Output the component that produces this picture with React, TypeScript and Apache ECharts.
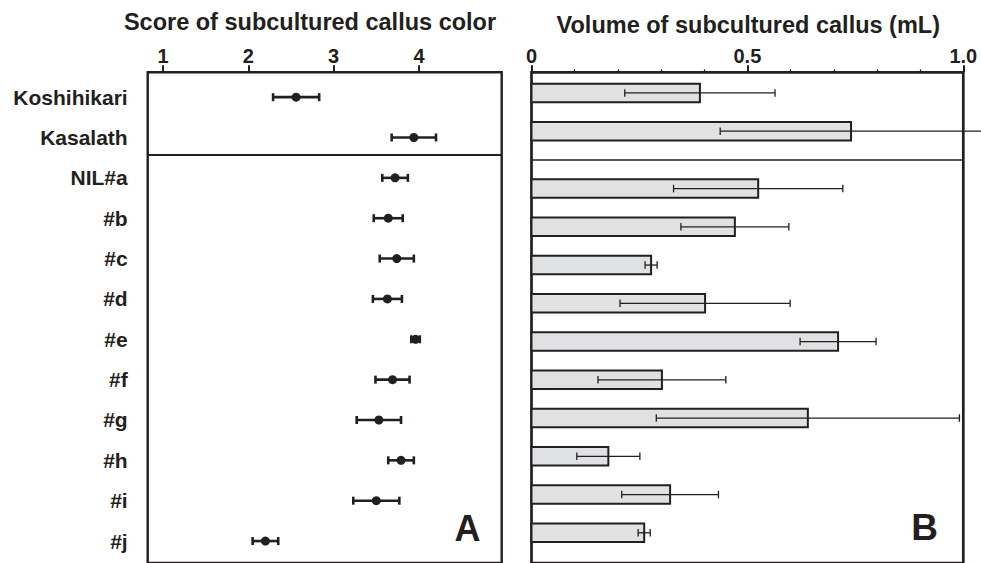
import React, { useEffect, useRef } from 'react';
import * as echarts from 'echarts';

// ---- data ----
const lines = ['Koshihikari', 'Kasalath', 'NIL#a', '#b', '#c', '#d', '#e', '#f', '#g', '#h', '#i', '#j'];
const scoreMean = [2.56, 3.94, 3.72, 3.64, 3.74, 3.63, 3.96, 3.69, 3.53, 3.79, 3.5, 2.2];
const scoreErr = [0.27, 0.26, 0.15, 0.17, 0.2, 0.17, 0.05, 0.2, 0.26, 0.15, 0.27, 0.15];
const volumeMean = [0.39, 0.74, 0.525, 0.471, 0.277, 0.402, 0.71, 0.302, 0.64, 0.178, 0.321, 0.261];
const volumeErr = [0.174, 0.303, 0.196, 0.125, 0.014, 0.197, 0.088, 0.148, 0.351, 0.073, 0.112, 0.014];
const scoreTicks = [1, 2, 3, 4];
const titleA = 'Score of subcultured callus color';
const titleB = 'Volume of subcultured callus (mL)';

const INK = '#231f20';
const FONT = '"Liberation Sans", Arial, Helvetica, sans-serif';

// Panel B leaves an extra half row between the parents and the NILs
const rowB = (i: number) => (i < 2 ? i : i + 0.5);

function errorBar(lineWidth: number, cap: number) {
  return (params: any, api: any) => {
    const lo = api.coord([api.value(0), api.value(2)]);
    const hi = api.coord([api.value(1), api.value(2)]);
    const style = { stroke: INK, lineWidth, fill: null };
    return {
      type: 'group',
      children: [
        { type: 'line', shape: { x1: lo[0], y1: lo[1], x2: hi[0], y2: hi[1] }, style },
        { type: 'line', shape: { x1: lo[0], y1: lo[1] - cap, x2: lo[0], y2: lo[1] + cap }, style },
        { type: 'line', shape: { x1: hi[0], y1: hi[1] - cap, x2: hi[0], y2: hi[1] + cap }, style },
      ],
    };
  };
}

export default function App() {
  const ref = useRef<HTMLDivElement>(null);
  useEffect(() => {
    const chart = echarts.init(ref.current!, null, { renderer: 'svg' });
    const idx = lines.map((_, i) => i);
    const tickLabel = { fontSize: 20, fontWeight: 'bold', color: INK, fontFamily: FONT, margin: 6 };
    const option: any = {
      animation: false,
      backgroundColor: '#ffffff',
      grid: [
        { left: 147.7, right: 479.3, top: 72.3, bottom: -3, show: true, borderColor: INK, borderWidth: 2.4 },
        { left: 531.5, right: 17.7, top: 72.3, bottom: -3, show: true, borderColor: INK, borderWidth: 2.7 },
      ],
      xAxis: [
        {
          type: 'value', gridIndex: 0, position: 'top', min: 0.82, max: 4.97,
          axisLine: { show: false, onZero: false },
          axisTick: { show: true, customValues: scoreTicks, length: 7, lineStyle: { color: INK, width: 2 } },
          axisLabel: { ...tickLabel, customValues: scoreTicks },
          splitLine: { show: false },
        },
        {
          type: 'value', gridIndex: 1, position: 'top', min: 0, max: 1, interval: 0.5,
          axisLine: { show: false, onZero: false },
          axisTick: { show: true, length: 7, lineStyle: { color: INK, width: 2 } },
          minorTick: { show: true, splitNumber: 5, length: 3, lineStyle: { color: INK, width: 1.2 } },
          axisLabel: { ...tickLabel, formatter: (v: number) => (v === 1 ? '1.0' : String(v)) },
          splitLine: { show: false },
          minorSplitLine: { show: false },
        },
      ],
      yAxis: [
        {
          type: 'value', gridIndex: 0, inverse: true, min: -0.616, max: 11.544,
          axisLine: { show: false, onZero: false }, axisTick: { show: false }, splitLine: { show: false },
          axisLabel: {
            customValues: idx,
            formatter: (v: number) => lines[Math.round(v)] ?? '',
            margin: 20, fontSize: 21, fontWeight: 'bold', color: INK, fontFamily: FONT,
            padding: [0, 0, 7, 0],
          },
        },
        { type: 'value', gridIndex: 1, inverse: true, min: -0.54, max: 12.29, show: false },
      ],
      series: [
        {
          type: 'custom', xAxisIndex: 0, yAxisIndex: 0, clip: false, z: 3,
          data: scoreMean.map((m, i) => [m - scoreErr[i], m + scoreErr[i], i]),
          encode: { x: [0, 1], y: 2 },
          renderItem: errorBar(2.6, 4),
        },
        {
          type: 'scatter', xAxisIndex: 0, yAxisIndex: 0, z: 4,
          data: scoreMean.map((m, i) => [m, i]),
          symbol: 'circle', symbolSize: 9, itemStyle: { color: INK, opacity: 1 },
          markLine: {
            silent: true, symbol: ['none', 'none'], label: { show: false },
            lineStyle: { color: INK, width: 1.8, type: 'solid' },
            data: [{ yAxis: 1.43 }],
          },
        },
        {
          type: 'custom', xAxisIndex: 1, yAxisIndex: 1, clip: false, z: 2,
          data: volumeMean.map((v, i) => [v, rowB(i)]),
          encode: { x: 0, y: 1 },
          renderItem: (params: any, api: any) => {
            const start = api.coord([0, api.value(1)]);
            const end = api.coord([api.value(0), api.value(1)]);
            const h = 18.5;
            return {
              type: 'rect',
              shape: { x: start[0], y: start[1] - h / 2, width: end[0] - start[0], height: h },
              style: { fill: '#e0e1e3', stroke: INK, lineWidth: 2 },
            };
          },
        },
        {
          type: 'custom', xAxisIndex: 1, yAxisIndex: 1, clip: false, z: 3,
          data: volumeMean.map((v, i) => [v - volumeErr[i], v + volumeErr[i], rowB(i)]),
          encode: { x: [0, 1], y: 2 },
          renderItem: errorBar(1.3, 3.8),
          markLine: {
            silent: true, symbol: ['none', 'none'], label: { show: false },
            lineStyle: { color: INK, width: 1.5, type: 'solid' },
            data: [{ yAxis: (rowB(1) + rowB(2)) / 2 }],
          },
        },
      ],
      graphic: [
        { type: 'text', x: 310, y: 22.3, style: { text: titleA, fontSize: 23.5, fontWeight: 'bold', fontFamily: FONT, fill: INK, align: 'center', verticalAlign: 'middle' } },
        { type: 'text', x: 748.3, y: 25, style: { text: titleB, fontSize: 23.5, fontWeight: 'bold', fontFamily: FONT, fill: INK, align: 'center', verticalAlign: 'middle' } },
        { type: 'text', x: 467.5, y: 528, style: { text: 'A', fontSize: 36, fontWeight: 'bold', fontFamily: FONT, fill: INK, align: 'center', verticalAlign: 'middle' } },
        { type: 'text', x: 924.7, y: 527, style: { text: 'B', fontSize: 37, fontWeight: 'bold', fontFamily: FONT, fill: INK, align: 'center', verticalAlign: 'middle' } },
      ],
    };
    chart.setOption(option);
    return () => chart.dispose();
  }, []);
  return <div ref={ref} style={{ position: 'fixed', left: 0, top: 0, width: 981, height: 563 }} />;
}
